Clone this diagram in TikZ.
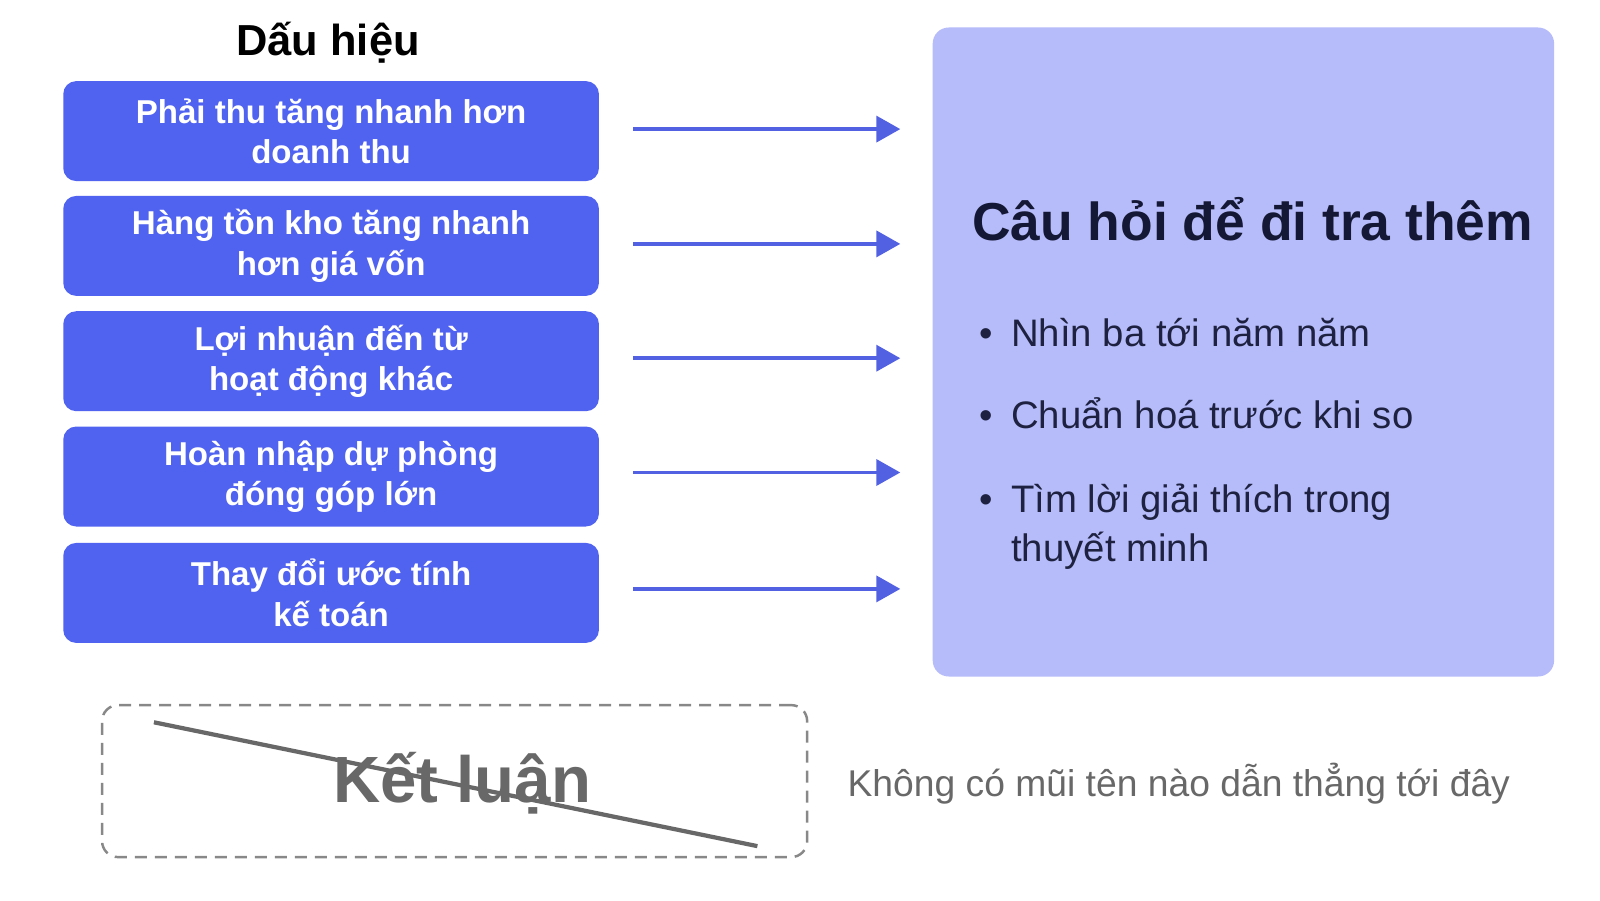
\documentclass[tikz,border=0pt]{standalone}
\usepackage{fontspec}
\setmainfont{Liberation Sans}
\usepackage{xcolor}
\usetikzlibrary{positioning,calc,arrows.meta}

\definecolor{signblue}{RGB}{80,98,240}
\definecolor{arrowblue}{RGB}{82,96,226}
\definecolor{panelblue}{RGB}{182,188,250}
\definecolor{navy}{RGB}{20,24,52}
\definecolor{itemnavy}{RGB}{30,34,64}
\definecolor{greytext}{RGB}{104,104,104}
\definecolor{greydash}{RGB}{136,136,136}

\newcommand{\qitem}[1]{\makebox[0.32cm][l]{\textbullet}\parbox[t]{5cm}{\raggedright #1}}

\begin{document}
\begin{tikzpicture}[
    sign/.style={rectangle, rounded corners=0.13cm, fill=signblue, text=white, minimum width=5.357cm, minimum height=1.0cm, align=center, font=\bfseries\fontsize{9.4}{11.5}\selectfont},
    arrow/.style={-{Triangle[length=2.4mm,width=2.6mm]}, line width=1.05pt, draw=arrowblue, fill=arrowblue},
    panel/.style={rectangle, rounded corners=0.16cm, fill=panelblue, minimum width=6.214cm, minimum height=6.49cm},
    item/.style={anchor=base west, inner sep=0, text=itemnavy, font=\fontsize{10.9}{13.9}\selectfont},
    concl/.style={rectangle, rounded corners=0.16cm, draw=greydash, dash pattern=on 1.2mm off 0.8mm, line width=0.7pt, minimum width=7.051cm, minimum height=1.52cm},
    strike/.style={draw=greytext, line width=1.2pt},
]
    \useasboundingbox (0,0) rectangle (16,9);

    % left column
    \node[anchor=base, font=\bfseries\fontsize{12.35}{14}\selectfont] (head) at (3.281,8.44) {Dấu hiệu};
    \node[sign] (s1) at (3.311,7.689) {Phải thu tăng nhanh hơn\\doanh thu};
    \node[sign] (s2) at (3.311,6.541) {Hàng tồn kho tăng nhanh\\hơn giá vốn};
    \node[sign] (s3) at (3.311,5.388) {Lợi nhuận đến từ\\hoạt động khác};
    \node[sign] (s4) at (3.311,4.235) {Hoàn nhập dự phòng\\đóng góp lớn};
    \node[sign] (s5) at (3.311,3.071) {Thay đổi ước tính\\kế toán};

    % right panel
    \node[panel] (qbox) at (12.434,5.48) {};
    \node[anchor=base west, inner sep=0, text=navy, font=\bfseries\fontsize{15.2}{17}\selectfont] (qhead) at (9.714,6.592) {Câu hỏi để đi tra thêm};
    \node[item] (q1) at (9.786,5.531) {\qitem{Nhìn ba tới năm năm}};
    \node[item] (q2) at (9.786,4.718) {\qitem{Chuẩn hoá trước khi so}};
    \node[item] (q3) at (9.786,3.877) {\qitem{Tìm lời giải thích trong\\thuyết minh}};

    \draw[arrow] ([shift={(0.337,0.02)}]s1.east) -- ($(s1.east -| qbox.west)+(-0.317,0.02)$);
    \draw[arrow] ([shift={(0.337,0.02)}]s2.east) -- ($(s2.east -| qbox.west)+(-0.317,0.02)$);
    \draw[arrow] ([shift={(0.337,0.03)}]s3.east) -- ($(s3.east -| qbox.west)+(-0.317,0.03)$);
    \draw[arrow] ([shift={(0.337,0.04)}]s4.east) -- ($(s4.east -| qbox.west)+(-0.317,0.04)$);
    \draw[arrow] ([shift={(0.337,0.04)}]s5.east) -- ($(s5.east -| qbox.west)+(-0.317,0.04)$);

    % crossed out conclusion
    \node[concl] (concl) at (4.546,1.189) {};
    \node[text=greytext, font=\bfseries\fontsize{18.6}{20}\selectfont] (ktext) at (4.622,1.17) {Kết luận};
    \draw[strike] ([shift={(0.531,-0.184)}]concl.north west) -- ([shift={(-0.51,0.122)}]concl.south east);
    \node[anchor=base west, inner sep=0, text=greytext, font=\fontsize{10.6}{12}\selectfont] (note) at (8.469,1.04) {Không có mũi tên nào dẫn thẳng tới đây};
\end{tikzpicture}
\end{document}
